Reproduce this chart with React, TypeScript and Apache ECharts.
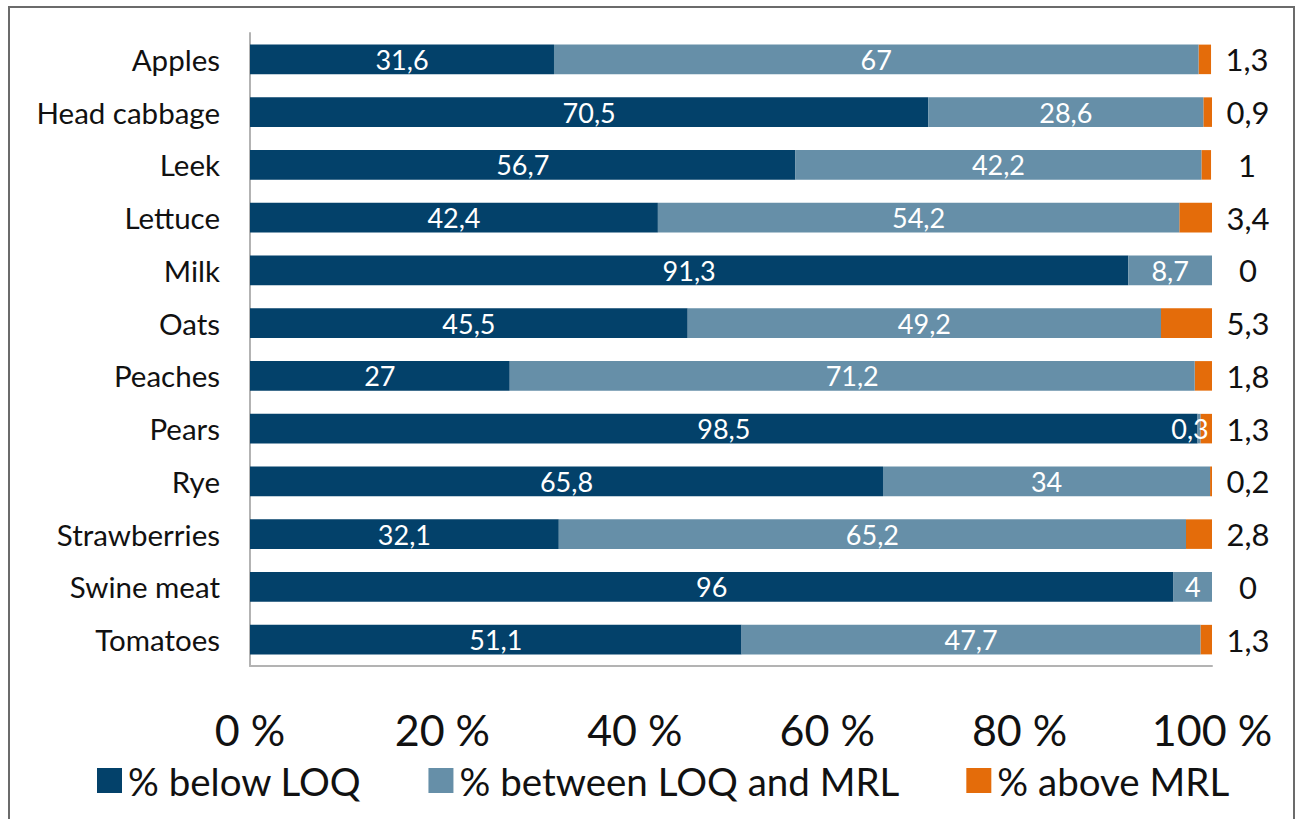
import React, { useEffect, useRef } from "react";
import * as echarts from "echarts";

const categories = [
  "Apples",
  "Head cabbage",
  "Leek",
  "Lettuce",
  "Milk",
  "Oats",
  "Peaches",
  "Pears",
  "Rye",
  "Strawberries",
  "Swine meat",
  "Tomatoes",
];
const belowLOQ = [31.6, 70.5, 56.7, 42.4, 91.3, 45.5, 27, 98.5, 65.8, 32.1, 96, 51.1];
const betweenLOQMRL = [67, 28.6, 42.2, 54.2, 8.7, 49.2, 71.2, 0.3, 34, 65.2, 4, 47.7];
const aboveMRL = [1.3, 0.9, 1, 3.4, 0, 5.3, 1.8, 1.3, 0.2, 2.8, 0, 1.3];
const seriesNames = ["% below LOQ", "% between LOQ and MRL", "% above MRL"];
const xTicks = [0, 20, 40, 60, 80, 100];

const FONT = "Lato, 'Open Sans', sans-serif";
const fmt = (v: number) => String(v).replace(".", ",");

export default function App() {
  const ref = useRef<HTMLDivElement>(null);
  useEffect(() => {
    if (!ref.current) return;
    const chart = echarts.init(ref.current, undefined, { renderer: "svg" });
    const insideLabel = {
      show: true,
      position: "inside",
      color: "#ffffff",
      fontSize: 27,
      fontFamily: FONT,
      formatter: (p: any) => fmt(p.value),
    };
    chart.setOption({
      animation: false,
      backgroundColor: "#ffffff",
      textStyle: { fontFamily: FONT },
      graphic: [
        {
          type: "rect",
          shape: { x: 9, y: 7, width: 1285, height: 830 },
          style: { fill: "none", stroke: "#6b6b6b", lineWidth: 2 },
          silent: true,
        },
      ],
      grid: { left: 250, right: 85, top: 33, bottom: 153, containLabel: false },
      legend: {
        bottom: 14,
        left: 92,
        itemWidth: 25,
        itemHeight: 25,
        itemGap: 67,
        icon: "rect",
        textStyle: { fontSize: 38.5, color: "#111", fontFamily: FONT, padding: [0, 0, 0, 1] },
        data: seriesNames,
      },
      xAxis: {
        type: "value",
        min: xTicks[0],
        max: xTicks[xTicks.length - 1],
        interval: 20,
        axisLine: { show: true, lineStyle: { color: "#b3b3b3", width: 2 } },
        axisTick: { show: false },
        splitLine: { show: false },
        axisLabel: {
          fontSize: 43,
          color: "#111",
          fontFamily: FONT,
          margin: 42,
          formatter: (v: number) => `${v} %`,
        },
      },
      yAxis: {
        type: "category",
        data: categories,
        inverse: true,
        axisLine: { show: true, lineStyle: { color: "#b3b3b3", width: 2 } },
        axisTick: { show: false },
        axisLabel: { fontSize: 29.5, color: "#111", fontFamily: FONT, margin: 30 },
      },
      series: [
        {
          name: seriesNames[0],
          type: "bar",
          stack: "total",
          barCategoryGap: "44%",
          data: belowLOQ,
          itemStyle: { color: "#03416a" },
          label: insideLabel,
        },
        {
          name: seriesNames[1],
          type: "bar",
          stack: "total",
          z: 3,
          data: betweenLOQMRL.map((v, i) =>
            categories[i] === "Pears" ? { value: v, label: { offset: [-9, 0] } } : v
          ),
          itemStyle: { color: "#668fa8" },
          label: insideLabel,
        },
        {
          name: seriesNames[2],
          type: "bar",
          stack: "total",
          data: aboveMRL,
          itemStyle: { color: "#e46c0a" },
          label: {
            show: true,
            position: "right",
            distance: 5,
            align: "center",
            offset: [31, 0],
            color: "#111",
            fontSize: 31,
            fontFamily: FONT,
            formatter: (p: any) => fmt(p.value),
          },
        },
      ],
    });
    return () => chart.dispose();
  }, []);
  return (
    <div
      ref={ref}
      style={{ position: "absolute", left: 0, top: 0, width: 1297, height: 819 }}
    />
  );
}
